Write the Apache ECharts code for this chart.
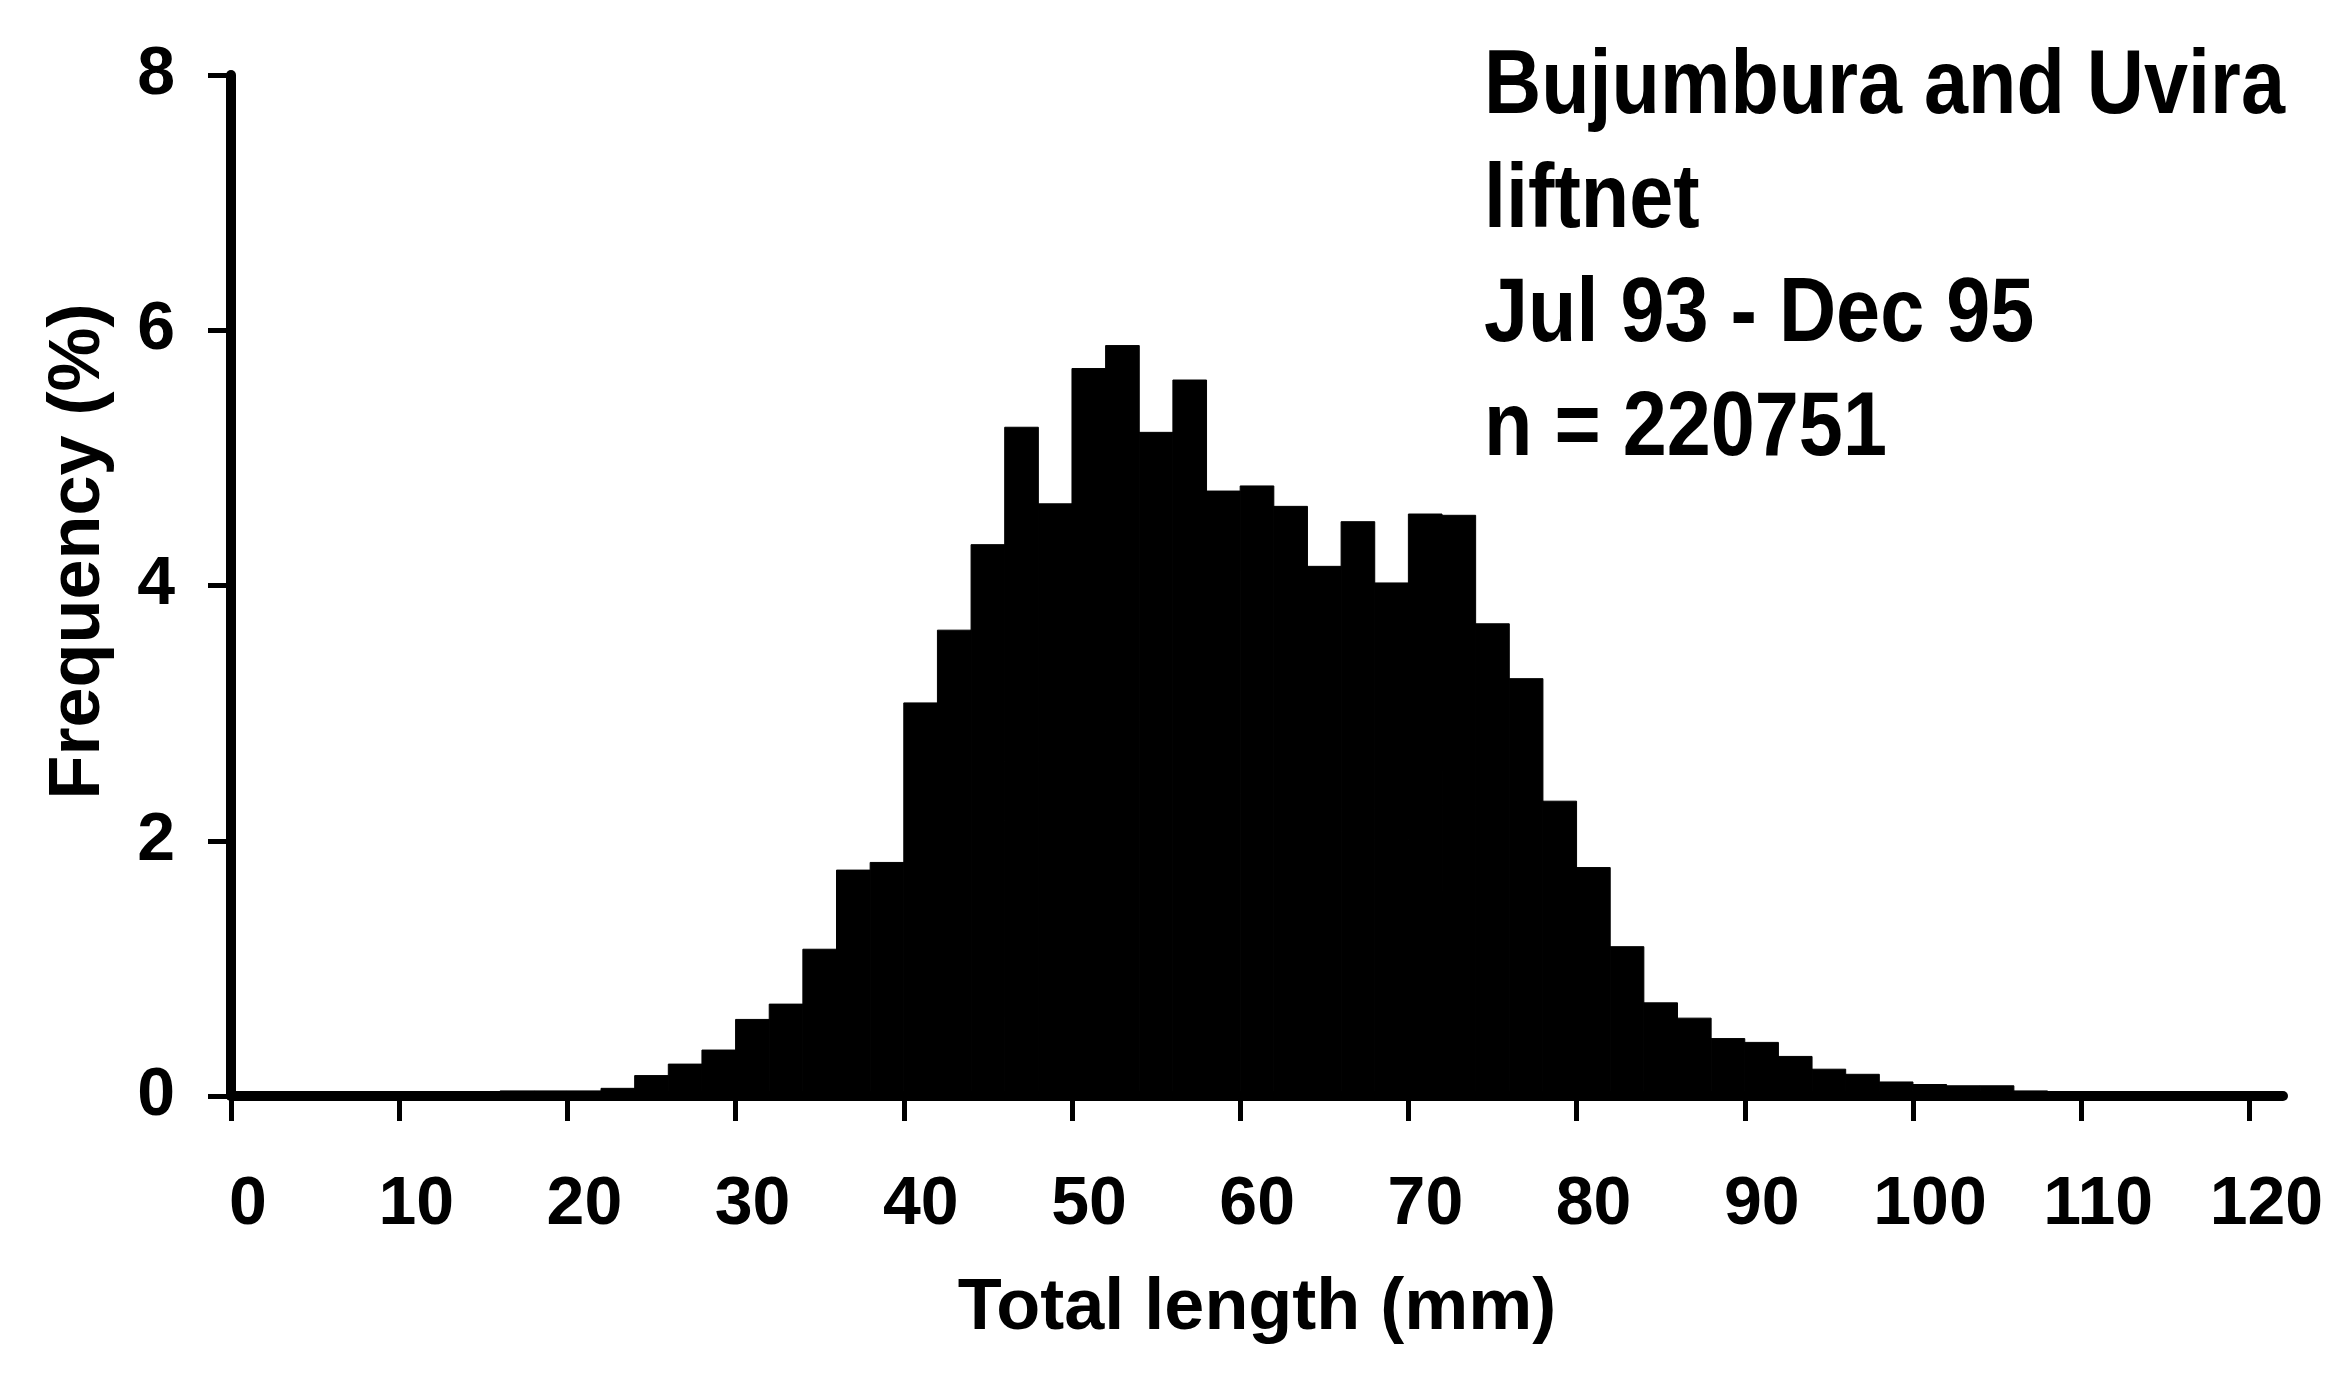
<!DOCTYPE html>
<html>
<head>
<meta charset="utf-8">
<title>Total length frequency - liftnet</title>
<script src="https://cdn.jsdelivr.net/npm/echarts@6/dist/echarts.min.js"></script>
<style>
  html, body { margin: 0; padding: 0; background: #fff; }
  #chart { width: 2338px; height: 1375px; }
</style>
</head>
<body>
<div id="chart"></div>
<script>
// lower edge of each 2 mm length class (mm)
const binStart = [0, 2, 4, 6, 8, 10, 12, 14, 16, 18, 20, 22, 24, 26, 28, 30, 32, 34, 36, 38,
  40, 42, 44, 46, 48, 50, 52, 54, 56, 58, 60, 62, 64, 66, 68, 70, 72, 74, 76, 78,
  80, 82, 84, 86, 88, 90, 92, 94, 96, 98, 100, 102, 104, 106, 108, 110, 112, 114, 116, 118, 120];
const binWidth = 2;
// frequency (%) per class
const freq = [0.02, 0.02, 0.02, 0.02, 0.02, 0.03, 0.02, 0.03, 0.04, 0.04, 0.04, 0.06, 0.16, 0.25, 0.36, 0.60, 0.72, 1.15, 1.77, 1.83,
  3.08, 3.65, 4.32, 5.24, 4.64, 5.70, 5.88, 5.20, 5.61, 4.74, 4.78, 4.62, 4.15, 4.50, 4.02, 4.56, 4.55, 3.70, 3.27, 2.31,
  1.79, 1.17, 0.73, 0.61, 0.45, 0.42, 0.31, 0.21, 0.17, 0.11, 0.09, 0.08, 0.08, 0.04, 0.03, 0.03, 0.02, 0.02, 0.01, 0.01, 0.01];

const xTicks = [0, 10, 20, 30, 40, 50, 60, 70, 80, 90, 100, 110, 120];
const yTicks = [0, 2, 4, 6, 8];
const noteLines = ['Bujumbura and Uvira', 'liftnet', 'Jul 93 - Dec 95', 'n = 220751'];

const font = '"Liberation Sans", Arial, Helvetica, sans-serif';

const chart = echarts.init(document.getElementById('chart'));

const option = {
  backgroundColor: '#fff',
  animation: false,
  grid: { left: 231, right: 55, top: 75, bottom: 279 },
  xAxis: {
    type: 'value',
    min: 0,
    max: 122,
    interval: 10,
    name: 'Total length (mm)',
    nameLocation: 'middle',
    nameGap: 177,
    nameTextStyle: { color: '#000', fontFamily: font, fontWeight: 'bold', fontSize: 72 },
    axisLine: { lineStyle: { color: '#000', width: 10 } },
    axisTick: { customValues: xTicks, length: 25, lineStyle: { color: '#000', width: 5 } },
    axisLabel: {
      customValues: xTicks,
      margin: 75,
      padding: [0, 0, 0, 34],
      color: '#000', fontFamily: font, fontWeight: 'bold', fontSize: 68
    },
    splitLine: { show: false }
  },
  yAxis: {
    type: 'value',
    min: 0,
    max: 8,
    interval: 2,
    name: 'Frequency (%)',
    nameLocation: 'middle',
    nameGap: 116,
    nameTextStyle: { color: '#000', fontFamily: font, fontWeight: 'bold', fontSize: 72, padding: [0, 0, 0, 68] },
    axisLine: { show: true, lineStyle: { color: '#000', width: 10 } },
    axisTick: { show: true, customValues: yTicks, length: 23, lineStyle: { color: '#000', width: 5 } },
    axisLabel: {
      customValues: yTicks,
      margin: 56,
      color: '#000', fontFamily: font, fontWeight: 'bold', fontSize: 68
    },
    splitLine: { show: false }
  },
  // narrow bold note block, top right
  graphic: noteLines.map((t, i) => ({
    type: 'text',
    x: 1484,
    y: 88 + i * 114,
    scaleX: 0.88,
    style: {
      text: t,
      fill: '#000',
      font: 'bold 90px ' + font,
      verticalAlign: 'middle'
    }
  })),
  series: [{
    type: 'custom',
    data: binStart.map((s, i) => [s, s + binWidth, freq[i]]),
    encode: { x: [0, 1], y: 2 },
    renderItem: function (params, api) {
      const top = api.coord([api.value(0), api.value(2)]);
      const base = api.coord([api.value(1), 0]);
      return {
        type: 'rect',
        shape: { x: top[0], y: top[1], width: base[0] - top[0], height: base[1] - top[1] },
        style: { fill: '#000', stroke: '#000', lineWidth: 1 }
      };
    }
  }]
};

chart.setOption(option);
</script>
</body>
</html>
